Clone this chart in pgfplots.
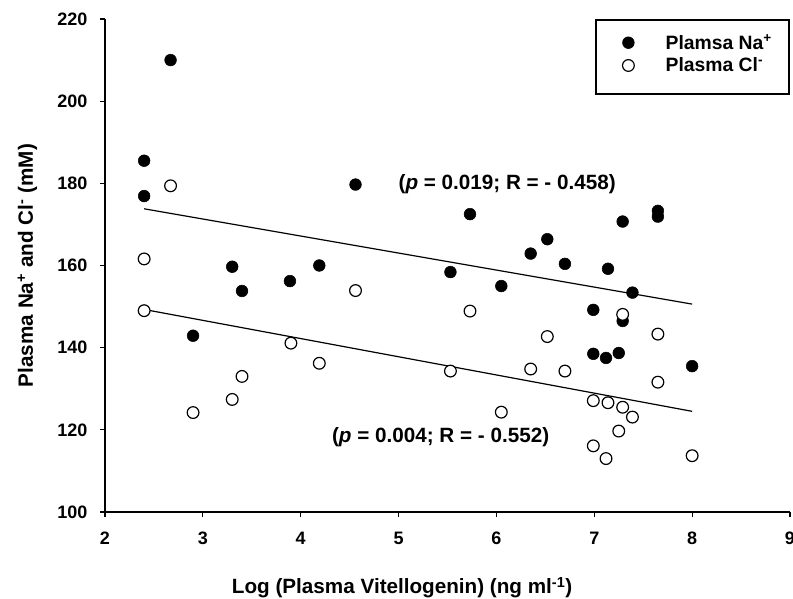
\documentclass[border=0pt]{standalone}
\usepackage{pgfplots}
\pgfplotsset{compat=1.18}
\usepackage{pgfplotstable}
\usepackage{fontspec}
\setmainfont{Liberation Sans}

% plasma Na+ (filled) and Cl- (open) against log vitellogenin
\pgfplotstableread{
x y
2.40 185.5
2.40 176.9
2.67 210.0
2.90 142.9
3.30 159.7
3.40 153.8
3.89 156.2
4.19 160.0
4.56 179.7
5.53 158.4
5.73 172.5
6.05 155.0
6.35 162.9
6.52 166.4
6.70 160.4
6.99 149.2
6.99 138.5
7.12 137.5
7.14 159.2
7.25 138.7
7.29 170.7
7.29 146.5
7.39 153.4
7.65 173.3
7.65 171.9
8.00 135.5
}\natable

\pgfplotstableread{
x y
2.40 161.6
2.40 149.0
2.67 179.4
2.90 124.2
3.30 127.4
3.40 133.0
3.90 141.1
4.19 136.2
4.56 153.9
5.53 134.3
5.73 148.9
6.05 124.3
6.35 134.8
6.52 142.7
6.70 134.3
6.99 127.1
6.99 116.1
7.12 113.0
7.14 126.6
7.25 119.7
7.29 148.1
7.29 125.5
7.39 123.1
7.65 143.3
7.65 131.6
8.00 113.7
}\cltable

\begin{document}
\begin{tikzpicture}
\useasboundingbox (-78.75pt,-65.25pt) rectangle (516pt,384pt);
\begin{axis}[
  scale only axis, width=513.75pt, height=369.75pt,
  xmin=2, xmax=9, ymin=100, ymax=220,
  xtick={2,3,...,9}, ytick={100,120,...,220},
  axis x line*=bottom, axis y line*=left,
  axis line style={-, line width=1pt},
  tick align=outside, major tick length=3.75pt,
  tick style={line width=0.9pt, black},
  /pgf/number format/assume math mode=true,
  ticklabel style={font=\fontsize{13.5}{16}\selectfont\bfseries},
  yticklabel style={xshift=-6pt},
  xticklabel style={yshift=-7.5pt},
  xlabel={Log (Plasma Vitellogenin) (ng ml\textsuperscript{-1})},
  ylabel={Plasma Na\textsuperscript{+} and Cl\textsuperscript{-} (mM)},
  every axis x label/.style={at={([xshift=-34pt,yshift=-61.5pt]axis description cs:0.5,0)}, anchor=base,
    font=\fontsize{15.5}{18}\selectfont\bfseries},
  every axis y label/.style={at={([xshift=-54pt]axis description cs:0,0.5)}, anchor=base, rotate=90,
    font=\fontsize{15.5}{18}\selectfont\bfseries},
  legend style={at={(rel axis cs:0.9985,0.998)}, anchor=north east, draw=none, fill=none,
    font=\fontsize{14.5}{17}\selectfont\bfseries, inner xsep=10.5pt, inner ysep=10pt,
    column sep=14pt, row sep=3.75pt, nodes={inner ysep=0.5pt}},
  legend cell align=left,
  legend image code/.code={\path (0pt,0pt) (24pt,0pt);
    \draw[mark repeat=2, mark phase=2, #1] plot coordinates {(0pt,0pt) (12.5pt,0pt) (24pt,0pt)};},
]
\draw[line width=0.9pt] (rel axis cs:0.7168,0.8479) rectangle (rel axis cs:0.9985,0.998);
\addplot[black, line width=0.9pt, forget plot] coordinates {(2.4,173.8) (8.0,150.6)};
\addplot[black, line width=0.9pt, forget plot] coordinates {(2.4,149.3) (8.0,124.5)};
\addplot[only marks, mark=*, mark size=4.4pt, draw=black, fill=black] table {\natable};
\addlegendentry{Plamsa Na\textsuperscript{+}}
\addplot[only marks, mark=*, mark size=4.4pt, draw=black, fill=white, line width=0.9pt] table {\cltable};
\addlegendentry{Plasma Cl\textsuperscript{-}}
\node[font=\fontsize{15.5}{18}\selectfont\bfseries] at (axis cs:6.11,179.8) {(\textit{p} = 0.019; R = - 0.458)};
\node[font=\fontsize{15.5}{18}\selectfont\bfseries] at (axis cs:5.43,118.3) {(\textit{p} = 0.004; R = - 0.552)};
\end{axis}
\end{tikzpicture}
\end{document}
